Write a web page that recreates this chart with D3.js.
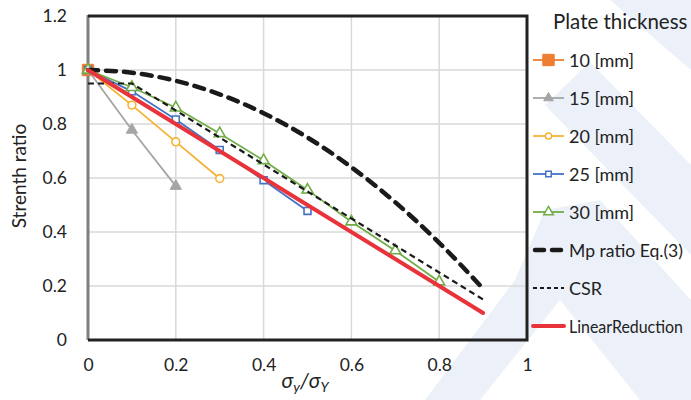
<!DOCTYPE html>
<html><head><meta charset="utf-8">
<script src="https://cdn.jsdelivr.net/npm/d3@7"></script>
<style>body{margin:0;background:#fff}svg{display:block}text{font-family:Lato,"Open Sans",sans-serif}</style>
</head><body><svg id="c" width="691" height="400"></svg>
<script>
// ---- data ----
const xTicks = [0, 0.2, 0.4, 0.6, 0.8, 1];
const yTicks = [0, 0.2, 0.4, 0.6, 0.8, 1, 1.2];
const seriesNames = ["10 [mm]", "15 [mm]", "20 [mm]", "25 [mm]", "30 [mm]", "Mp ratio Eq.(3)", "CSR", "LinearReduction"];
const t10x = [0];            const t10y = [1];
const t15x = [0, 0.1, 0.2];  const t15y = [1, 0.778, 0.570];
const t20x = [0, 0.1, 0.2, 0.3]; const t20y = [1, 0.870, 0.734, 0.598];
const t25x = [0, 0.1, 0.2, 0.3, 0.4, 0.5]; const t25y = [1, 0.921, 0.817, 0.704, 0.592, 0.478];
const t30x = [0, 0.1, 0.2, 0.3, 0.4, 0.5, 0.6, 0.7, 0.8]; const t30y = [1, 0.936, 0.860, 0.765, 0.665, 0.556, 0.438, 0.331, 0.216];
const mpX = [0, 0.1, 0.2, 0.3, 0.4, 0.5, 0.6, 0.7, 0.8, 0.9];
const mpY = [1, 0.99, 0.96, 0.91, 0.84, 0.75, 0.64, 0.51, 0.36, 0.19];
const csrX = [0, 0.1, 0.2, 0.3, 0.4, 0.5, 0.6, 0.7, 0.8, 0.9];
const csrY = [0.95, 0.95, 0.85, 0.75, 0.65, 0.55, 0.45, 0.35, 0.25, 0.15];
const linX = [0, 0.9];       const linY = [1, 0.1];
const colors = ["#ED7D31", "#A5A5A5", "#F5B335", "#4472C4", "#70AD47", "#1a1a1a", "#1a1a1a", "#E8333A"];

const svg = d3.select("#c");
const L = 88, R = 527, T = 16, B = 340;
const x = d3.scaleLinear().domain([0, 1]).range([L, R]);
const y = d3.scaleLinear().domain([0, 1.2]).range([B, T]);

// faint watermark background
const wm = svg.append("g").attr("fill", "#ecf1f9");
[
  [[545,105],[590,62],[691,165],[691,255]],
  [[610,0],[691,0],[691,70]],
  [[425,400],[515,280],[545,210],[600,200],[691,300],[691,400],[640,400],[560,300],[480,400]],
].forEach(p => wm.append("polygon").attr("points", p.map(q => q.join(",")).join(" ")));

// gridlines
const g = svg.append("g");
g.selectAll(".gx").data(xTicks.filter(v => v > 0 && v < 1)).join("line")
  .attr("x1", d => x(d)).attr("x2", d => x(d)).attr("y1", T).attr("y2", B)
  .attr("stroke", "#d9d9d9").attr("stroke-width", 1.5);
g.selectAll(".gy").data(yTicks.filter(v => v > 0 && v < 1.2)).join("line")
  .attr("y1", d => y(d)).attr("y2", d => y(d)).attr("x1", L).attr("x2", R)
  .attr("stroke", "#d9d9d9").attr("stroke-width", 1.5);

// axes via d3
const xAxis = svg.append("g").attr("transform", `translate(0,${B})`)
  .call(d3.axisBottom(x).tickValues(xTicks).tickFormat(d3.format("")).tickSize(0).tickPadding(19));
const yAxis = svg.append("g").attr("transform", `translate(${L},0)`)
  .call(d3.axisLeft(y).tickValues(yTicks).tickFormat(d3.format("")).tickSize(0).tickPadding(21));
[xAxis, yAxis].forEach(a => { a.select(".domain").remove(); a.selectAll("text").attr("font-size", 17.5).attr("fill", "#222").attr("font-family", "Lato, sans-serif"); });

// frame
svg.append("line").attr("x1", L).attr("x2", L).attr("y1", T - 1).attr("y2", B).attr("stroke", "#7f7f7f").attr("stroke-width", 3);
svg.append("path").attr("d", `M${L},${T}H${R}V${B}H${L}`).attr("fill", "none").attr("stroke", "#222").attr("stroke-width", 3);

// series
const line = d3.line().x(d => x(d[0])).y(d => y(d[1]));
const zip = (a, b) => a.map((v, i) => [v, b[i]]);
const sym = (type, size) => d3.symbol().type(type).size(size);
function markers(data, type, size, color, filled, sw) {
  svg.append("g").selectAll("path").data(data).join("path")
    .attr("transform", d => `translate(${x(d[0])},${y(d[1])})`)
    .attr("d", sym(type, size)())
    .attr("fill", filled ? color : "#fff").attr("stroke", color).attr("stroke-width", sw);
}
// 10 mm
markers(zip(t10x, t10y), d3.symbolSquare, 130, colors[0], true, 1);
// 15 mm
svg.append("path").datum(zip(t15x, t15y)).attr("d", line).attr("fill", "none").attr("stroke", colors[1]).attr("stroke-width", 1.8);
markers(zip(t15x, t15y), d3.symbolTriangle, 55, colors[1], true, 1);
// 20 mm
svg.append("path").datum(zip(t20x, t20y)).attr("d", line).attr("fill", "none").attr("stroke", colors[2]).attr("stroke-width", 1.8);
markers(zip(t20x, t20y), d3.symbolCircle, 48, colors[2], false, 1.6);
// 25 mm
svg.append("path").datum(zip(t25x, t25y)).attr("d", line).attr("fill", "none").attr("stroke", colors[3]).attr("stroke-width", 1.8);
markers(zip(t25x, t25y), d3.symbolSquare, 48, colors[3], false, 1.6);
// 30 mm
svg.append("path").datum(zip(t30x, t30y)).attr("d", line).attr("fill", "none").attr("stroke", colors[4]).attr("stroke-width", 1.8);
markers(zip(t30x, t30y), d3.symbolTriangle, 52, colors[4], false, 1.6);
// Mp ratio
svg.append("path").datum(zip(mpX, mpY)).attr("d", line.curve(d3.curveMonotoneX)).attr("fill", "none")
  .attr("stroke", colors[5]).attr("stroke-width", 4.5).attr("stroke-dasharray", "10,8").attr("stroke-linecap", "round");
line.curve(d3.curveLinear);
// CSR
svg.append("path").datum(zip(csrX, csrY)).attr("d", line).attr("fill", "none")
  .attr("stroke", colors[6]).attr("stroke-width", 2.2).attr("stroke-dasharray", "6,4");
// Linear reduction
svg.append("path").datum(zip(linX, linY)).attr("d", line).attr("fill", "none")
  .attr("stroke", colors[7]).attr("stroke-width", 4).attr("stroke-linecap", "round");

// axis titles
svg.append("text").attr("transform", "translate(26,176) rotate(-90)").attr("text-anchor", "middle")
  .attr("font-size", 19).attr("fill", "#222").text("Strenth ratio");
const xt = svg.append("text").attr("x", 305).attr("y", 388).attr("text-anchor", "middle")
  .attr("font-family", "'Liberation Serif', 'DejaVu Serif', serif").attr("font-style", "italic").attr("font-size", 21).attr("fill", "#222");
xt.append("tspan").text("σ");
xt.append("tspan").attr("font-size", 14).attr("dy", 4).text("y");
xt.append("tspan").attr("dy", -4).text("/σ");
xt.append("tspan").attr("font-size", 14).attr("dy", 4).text("Y");

// legend
const lg = svg.append("g");
lg.append("text").attr("x", 553).attr("y", 29).attr("font-size", 20.5).attr("fill", "#222").text("Plate thickness");
const ly = d3.scaleLinear().domain([0, 7]).range([60, 326]);
seriesNames.forEach((name, i) => {
  const yy = ly(i);
  const ln = lg.append("line").attr("x1", 533).attr("x2", 564).attr("y1", yy).attr("y2", yy).attr("stroke", colors[i]);
  if (i === 5) ln.attr("x1", 535).attr("x2", 561).attr("stroke-width", 4.5).attr("stroke-dasharray", "9,8").attr("stroke-linecap", "round");
  else if (i === 6) ln.attr("stroke-width", 2).attr("stroke-dasharray", "4,3");
  else if (i === 7) ln.attr("stroke-width", 4).attr("stroke-linecap", "round");
  else ln.attr("stroke-width", 1.8);
  const mt = [d3.symbolSquare, d3.symbolTriangle, d3.symbolCircle, d3.symbolSquare, d3.symbolTriangle][i];
  if (mt) {
    const sz = [130, 40, 30, 30, 40][i];
    lg.append("path").attr("transform", `translate(548.5,${yy})`).attr("d", sym(mt, sz)())
      .attr("fill", (i === 0 || i === 1) ? colors[i] : "#fff").attr("stroke", colors[i]).attr("stroke-width", i < 2 ? 1 : 1.5);
  }
  const tx = lg.append("text").attr("x", 569).attr("y", yy + 6.5).attr("font-size", i === 7 ? 16.5 : 18).attr("fill", "#222").text(name);
  if (tx.node().getComputedTextLength() > 114) tx.attr("textLength", 114).attr("lengthAdjust", "spacingAndGlyphs");
});
</script></body></html>
